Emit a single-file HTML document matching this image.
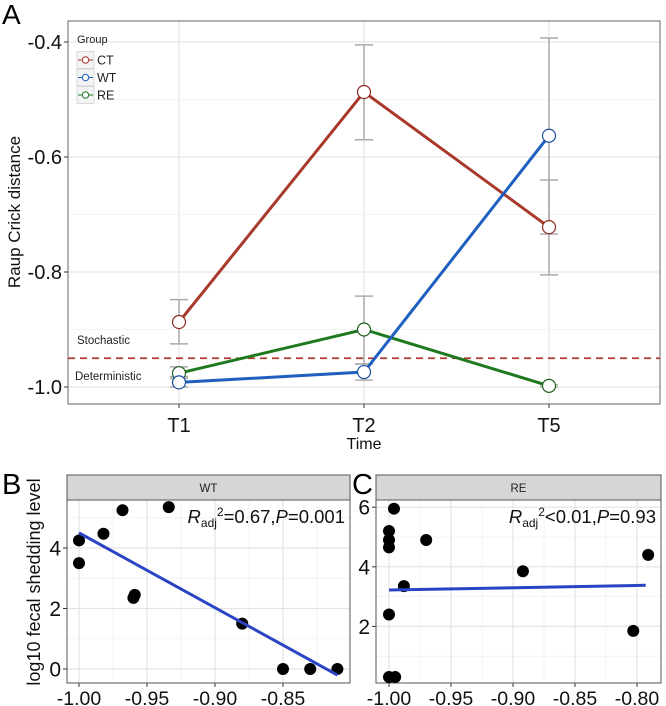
<!DOCTYPE html>
<html><head><meta charset="utf-8"><style>
html,body{margin:0;padding:0;background:#fff;}
svg{display:block;font-family:"Liberation Sans",Arial,sans-serif;}
</style></head><body>
<svg id="fig" width="666" height="706" viewBox="0 0 666 706" xmlns="http://www.w3.org/2000/svg">
<g id="gA"></g>
<g id="gB"></g>
<g id="gC"></g>
<text x="2" y="24" font-size="28">A</text>
<text x="2" y="494" font-size="29">B</text>
<text x="352" y="494" font-size="29">C</text>
</svg>
<script>
// ---- Panel A data ----
const timeCats = ["T1","T2","T5"];
const groups = ["CT","WT","RE"];
const groupColors = ["#a8392b","#1f5fbf","#1f7a1f"];
const ctMean = [-0.887,-0.487,-0.722];
const ctLow = [-0.925,-0.57,-0.805];
const ctHigh = [-0.848,-0.405,-0.64];
const wtMean = [-0.992,-0.974,-0.563];
const wtLow = [-1.0,-0.988,-0.734];
const wtHigh = [-0.982,-0.96,-0.393];
const reMean = [-0.976,-0.90,-0.998];
const reLow = [-0.985,-0.96,-1.0];
const reHigh = [-0.965,-0.842,-0.996];
const aTicks = [-0.4,-0.6,-0.8,-1.0];
const aTickLabels = ["-0.4","-0.6","-0.8","-1.0"];
const thresholdValue = -0.95;
// ---- Panel B data ----
const bX = [-1.0,-1.0,-0.982,-0.968,-0.960,-0.959,-0.934,-0.88,-0.85,-0.83,-0.81];
const bY = [4.25,3.5,4.47,5.25,2.35,2.45,5.35,1.5,0,0,0];
const bFitX = [-1.0,-0.81];
const bFitY = [4.5,-0.2];
const bXTicks = [-1.0,-0.95,-0.9,-0.85];
const bXTickLabels = ["-1.00","-0.95","-0.90","-0.85"];
const bYTicks = [0,2,4];
const bYTickLabels = ["0","2","4"];
// ---- Panel C data ----
const cX = [-1,-1,-1,-0.996,-0.97,-0.988,-1,-1,-0.995,-0.892,-0.803,-0.791];
const cY = [5.2,4.9,4.65,5.95,4.9,3.35,2.4,0.3,0.3,3.85,1.85,4.4];
const cFitX = [-1.0,-0.793];
const cFitY = [3.22,3.38];
const cXTicks = [-1.0,-0.95,-0.9,-0.85,-0.8];
const cXTickLabels = ["-1.00","-0.95","-0.90","-0.85","-0.80"];
const cYTicks = [2,4,6];
const cYTickLabels = ["2","4","6"];

const NS="http://www.w3.org/2000/svg";
function mk(parent,tag,attrs,text){const e=document.createElementNS(NS,tag);for(const k in attrs)e.setAttribute(k,attrs[k]);if(text!==undefined)e.textContent=text;parent.appendChild(e);return e;}

// ===== Panel A =====
(function(){
const g=document.getElementById('gA');
const L=68,R=660,T=21,B=404;
const xA=i=>179+i*185;
const yA=v=>387-(v+1)*575;
for(let i=0;i<aTicks.length;i++){
  const e=mk(g,'line',{x1:L,x2:R,y1:yA(aTicks[i]),y2:yA(aTicks[i]),stroke:'#e6e6e6','stroke-width':1.2});
  
  
  if(i<aTicks.length-1){const m=(aTicks[i]+aTicks[i+1])/2;
    const e2=mk(g,'line',{x1:L,x2:R,y1:yA(m),y2:yA(m),stroke:'#f0f0f0','stroke-width':0.8});
    
    }
}
for(let i=0;i<timeCats.length;i++){
  const e=mk(g,'line',{x1:xA(i),x2:xA(i),y1:T,y2:B,stroke:'#e6e6e6','stroke-width':1.2});
  
  
}
const frame=mk(g,'rect',{x:L,y:T,width:R-L,height:B-T,fill:'none',stroke:'#7f7f7f','stroke-width':1.2});


for(let i=0;i<aTicks.length;i++){
  const y=yA(aTicks[i]);
  mk(g,'line',{x1:L-4,x2:L,y1:y,y2:y,stroke:'#333'});
  const t=mk(g,'text',{x:L-6,y:y+7,'font-size':20,'text-anchor':'end',fill:'#111'},aTickLabels[i]);
  
  
}
for(let i=0;i<timeCats.length;i++){
  mk(g,'line',{x1:xA(i),x2:xA(i),y1:B,y2:B+4,stroke:'#333'});
  const t=mk(g,'text',{x:xA(i),y:432,'font-size':20,'text-anchor':'middle',fill:'#111'},timeCats[i]);
  
  
}
const xt=mk(g,'text',{x:364,y:449,'font-size':16,'text-anchor':'middle',fill:'#111'},'Time');


const yt=mk(g,'text',{x:0,y:0,'font-size':17,'text-anchor':'middle',fill:'#111',transform:'translate(20,212) rotate(-90)'},'Raup Crick distance');


const th=mk(g,'line',{x1:L,x2:R,y1:yA(thresholdValue),y2:yA(thresholdValue),stroke:'#b03a2e','stroke-width':1.8,'stroke-dasharray':'7,5'});


const s1=mk(g,'text',{x:77,y:344,'font-size':11.5,fill:'#222'},'Stochastic');


const s2=mk(g,'text',{x:75,y:380,'font-size':11.5,fill:'#222'},'Deterministic');


const means=[ctMean,wtMean,reMean],lows=[ctLow,wtLow,reLow],highs=[ctHigh,wtHigh,reHigh];
for(let s=0;s<3;s++)for(let i=0;i<timeCats.length;i++){
  const x=xA(i),y1=yA(lows[s][i]),y2=yA(highs[s][i]);
  const eb=mk(g,'path',{d:`M${x},${y1}V${y2}M${x-9},${y1}H${x+9}M${x-9},${y2}H${x+9}`,stroke:'#aaaaaa','stroke-width':1.5,fill:'none'});
  
  
}
const order=[0,2,1];
for(const s of order){
  const d=means[s].map((v,i)=>(i?'L':'M')+xA(i)+','+yA(v)).join('');
  const ln=mk(g,'path',{d:d,stroke:groupColors[s],'stroke-width':3,fill:'none'});
  
  
}
for(const s of order){
  for(let i=0;i<timeCats.length;i++){
    const c=mk(g,'circle',{cx:xA(i),cy:yA(means[s][i]),r:6.5,fill:'#fff',stroke:s==0?'#8b2a20':(s==1?'#1a4f9f':'#1f5f1f'),'stroke-width':1.2});
    
    
  }
}
const lg=mk(g,'g',{});


mk(lg,'text',{x:77,y:43,'font-size':11,fill:'#222'},'Group');
for(let s=0;s<3;s++){
  const y=60+s*17.5;
  const kg=mk(lg,'g',{});
  
  
  mk(kg,'rect',{x:77,y:y-8.5,width:17,height:17,fill:'#f4f4f4',stroke:'#d0d0d0','stroke-width':0.8});
  mk(kg,'line',{x1:78,x2:93,y1:y,y2:y,stroke:groupColors[s],'stroke-width':1});
  mk(kg,'circle',{cx:85.5,cy:y,r:3.2,fill:'#fff',stroke:groupColors[s],'stroke-width':1});
  mk(kg,'text',{x:97,y:y+4.5,'font-size':12.5,fill:'#222'},groups[s]);
}
})();

function scatterPanel(gid,o){
const g=document.getElementById(gid);
const {L,R,T,B,sT,xs,ys}=o;
mk(g,'rect',{x:L,y:T,width:R-L,height:B-T,fill:'#fff'});
for(let i=0;i<o.xt.length-1;i++){const m=(o.xt[i]+o.xt[i+1])/2;mk(g,'line',{x1:xs(m),x2:xs(m),y1:T,y2:B,stroke:'#f0f0f0','stroke-width':0.8});}
if(o.xt.length<5){const m=o.xt[o.xt.length-1]+0.025;mk(g,'line',{x1:xs(m),x2:xs(m),y1:T,y2:B,stroke:'#f0f0f0','stroke-width':0.8});}
for(let i=0;i<o.yt.length-1;i++){const m=(o.yt[i]+o.yt[i+1])/2;mk(g,'line',{x1:L,x2:R,y1:ys(m),y2:ys(m),stroke:'#f0f0f0','stroke-width':0.8});}
const extraM=o.yt[0]-1, extraTop=o.yt[o.yt.length-1]+1;
if(ys(extraM)<B)mk(g,'line',{x1:L,x2:R,y1:ys(extraM),y2:ys(extraM),stroke:'#f0f0f0','stroke-width':0.8});
if(ys(extraTop)>T)mk(g,'line',{x1:L,x2:R,y1:ys(extraTop),y2:ys(extraTop),stroke:'#f0f0f0','stroke-width':0.8});
for(let i=0;i<o.xt.length;i++){
  const e=mk(g,'line',{x1:xs(o.xt[i]),x2:xs(o.xt[i]),y1:T,y2:B,stroke:'#e4e4e4','stroke-width':1.2});
  
  
  mk(g,'line',{x1:xs(o.xt[i]),x2:xs(o.xt[i]),y1:B,y2:B+4,stroke:'#333'});
  const t=mk(g,'text',{x:xs(o.xt[i]),y:B+22,'font-size':19.5,'text-anchor':'middle',fill:'#111'},o.xl[i]);
  
  
}
for(let i=0;i<o.yt.length;i++){
  const e=mk(g,'line',{x1:L,x2:R,y1:ys(o.yt[i]),y2:ys(o.yt[i]),stroke:'#e4e4e4','stroke-width':1.2});
  
  
  mk(g,'line',{x1:L-4,x2:L,y1:ys(o.yt[i]),y2:ys(o.yt[i]),stroke:'#333'});
  const t=mk(g,'text',{x:L-6,y:ys(o.yt[i])+7.5,'font-size':21,'text-anchor':'end',fill:'#111'},o.yl[i]);
  
  
}
const fr=mk(g,'rect',{x:L,y:T,width:R-L,height:B-T,fill:'none',stroke:'#555','stroke-width':1});


const st=mk(g,'rect',{x:L,y:sT,width:R-L,height:T-sT,fill:'#d6d6d6',stroke:'#555','stroke-width':1});


const stt=mk(g,'text',{x:(L+R)/2,y:sT+17,'font-size':11.5,'text-anchor':'middle',fill:'#222'},o.strip);


for(let i=0;i<o.px.length;i++){
  const c=mk(g,'circle',{cx:xs(o.px[i]),cy:ys(o.py[i]),r:6,fill:'#000'});
  
  
}
const fl=mk(g,'line',{x1:xs(o.fx[0]),x2:xs(o.fx[1]),y1:ys(o.fy[0]),y2:ys(o.fy[1]),stroke:'#2b44c4','stroke-width':3});


const an=mk(g,'text',{x:R-5,y:T+23,'font-size':18.5,'text-anchor':'end',fill:'#111'});


an.innerHTML='<tspan font-style="italic">R</tspan><tspan font-size="12" dy="4">adj</tspan><tspan font-size="12" dy="-11">2</tspan><tspan dy="7">'+o.ann1+'</tspan><tspan font-style="italic">P</tspan><tspan>'+o.ann2+'</tspan>';
}
scatterPanel('gB',{L:67,R:350,T:500,B:683,sT:475,
  xs:v=>79+(v+1)*1360, ys:v=>669-v*30.25,
  xt:bXTicks,xl:bXTickLabels,yt:bYTicks,yl:bYTickLabels,
  px:bX,py:bY,fx:bFitX,fy:bFitY,strip:'WT',ann1:'=0.67,',ann2:'=0.001'});
scatterPanel('gC',{L:376,R:661,T:500,B:683,sT:475,
  xs:v=>389+(v+1)*1240, ys:v=>686-v*29.8,
  xt:cXTicks,xl:cXTickLabels,yt:cYTicks,yl:cYTickLabels,
  px:cX,py:cY,fx:cFitX,fy:cFitY,strip:'RE',ann1:'&lt;0.01,',ann2:'=0.93'});
(function(){
const g=document.getElementById('gB');
const t=mk(g,'text',{x:0,y:0,'font-size':18,'text-anchor':'middle',fill:'#111',transform:'translate(40,582) rotate(-90)'},'log10 fecal shedding level');


})();
</script>
</body></html>
